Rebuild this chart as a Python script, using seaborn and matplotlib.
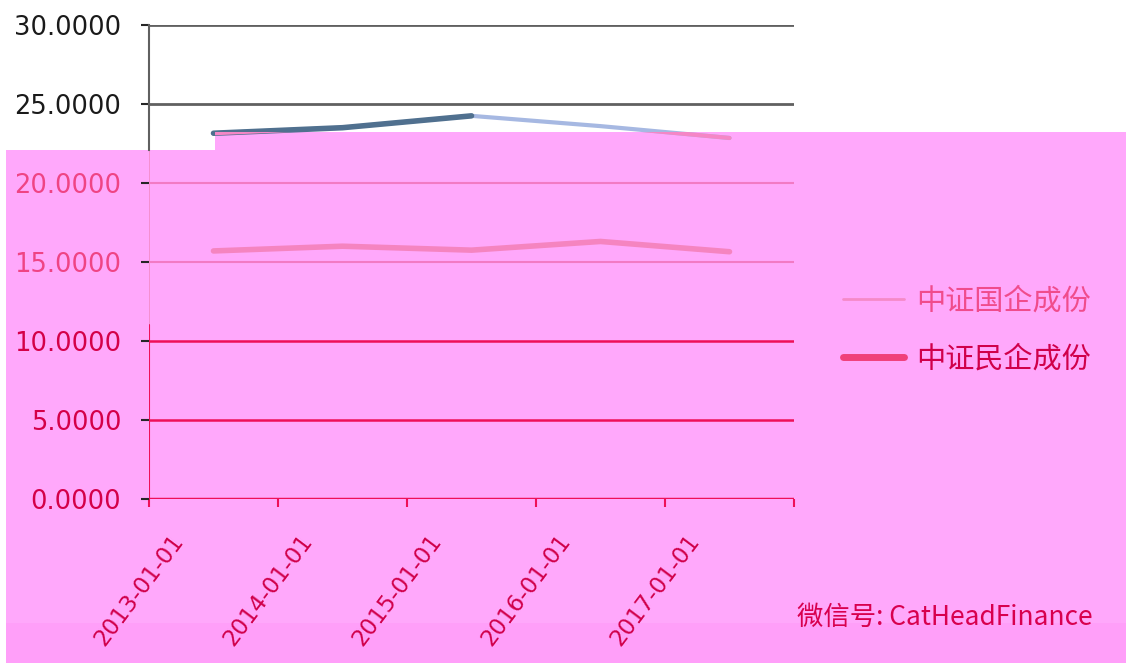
import matplotlib
matplotlib.use('Agg')
import matplotlib.pyplot as plt
import matplotlib.patches as mpatches
from matplotlib.lines import Line2D
from matplotlib.transforms import ScaledTranslation
import seaborn as sns
import pandas as pd

# data
dates = ['2013-01-01', '2014-01-01', '2015-01-01', '2016-01-01', '2017-01-01']
soe_values = [23.15, 23.5, 24.25, 23.6, 22.85]        # 中证国企成份
private_values = [15.7, 16.0, 15.75, 16.3, 15.65]     # 中证民企成份
series_names = ['中证国企成份', '中证民企成份']
y_ticks = [0, 5, 10, 15, 20, 25, 30]
watermark = '微信号: CatHeadFinance'

sns.set_theme(style='white')
plt.rcParams['font.family'] = ['DejaVu Sans', 'Noto Sans CJK SC']
cjk = ['Noto Sans CJK SC', 'DejaVu Sans']

W, H = 1126, 663
fig = plt.figure(figsize=(W / 100, H / 100), dpi=100)
fig.patch.set_facecolor('white')

# pink overlay areas (behind the axes)
pink = '#ffa8fb'
def px_rect(x0, y0, x1, y1, color, z):
    r = mpatches.Rectangle((x0 / W, 1 - y1 / H), (x1 - x0) / W, (y1 - y0) / H,
                           transform=fig.transFigure, facecolor=color,
                           edgecolor='none', zorder=z)
    fig.add_artist(r)
    return r

rect_a = px_rect(6, 150, 215, 663, pink, -2)
rect_b = px_rect(215, 132, 1126, 663, pink, -2)
px_rect(6, 623, 1126, 663, '#ff9ff9', -1)

ax = fig.add_axes([149 / W, 1 - 499 / H, (794 - 149) / W, (499 - 25) / H])
ax.patch.set_alpha(0)

df = pd.DataFrame({'date': dates, 'soe': soe_values, 'private': private_values})
x = list(range(len(dates)))

# upper series: light line, darker first half
sns.lineplot(x=x, y=df['soe'], ax=ax, color='#a6b8e2', lw=3, zorder=3)
sns.lineplot(x=x[:3], y=df['soe'][:3], ax=ax, color='#50708f', lw=4, zorder=4)
# tail of the upper line inside the pink area
sns.lineplot(x=x, y=df['soe'], ax=ax, color='#f586c6', lw=3, zorder=5)
ax.lines[-1].set_clip_path(rect_b)
# lower series
sns.lineplot(x=x, y=df['private'], ax=ax, color='#f584c0', lw=4, zorder=3)

ax.set_xlim(-0.5, len(dates) - 0.5)
ax.set_ylim(0, 30)
ax.set_xlabel('')
ax.set_ylabel('')

# y axis
ax.set_yticks(y_ticks)
ax.set_yticklabels([f'{v:.4f}' for v in y_ticks], fontsize=18.5)
ax.tick_params(axis='y', length=6, width=1.5, pad=14, left=True)
grid_cols = ['#ee1058', '#ee1058', '#ee1058', '#f27ac4', '#f27ac4', '#606060', '#606060']
grid_lw = [2.5, 1.8, 1.8, 1.5, 1.5, 2, 2]
lab_cols = ['#d40048', '#d40048', '#d40048', '#ef4484', '#ef4484', '#1a1a1a', '#1a1a1a']
ax.yaxis.grid(True)
for t, gc, lw, lc in zip(ax.yaxis.get_major_ticks(), grid_cols, grid_lw, lab_cols):
    t.gridline.set_color(gc)
    t.gridline.set_linewidth(lw)
    t.gridline.set_zorder(1)
    t.tick1line.set_color(gc)
    t.label1.set_color(lc)

# x axis: tick marks between categories, labels drawn rotated
ax.set_xticks([i - 0.5 for i in range(len(dates) + 1)])
ax.set_xticklabels([])
ax.tick_params(axis='x', length=6, width=1.5, color='#ee1058', bottom=True)
off = ScaledTranslation(-0.34, -0.38, fig.dpi_scale_trans)
for i, d in enumerate(dates):
    ax.text(i, 0, d, transform=ax.transData + off, rotation=53,
            rotation_mode='anchor', ha='right', va='center',
            fontsize=16.5, color='#d0004a')

for s in ['top', 'right']:
    ax.spines[s].set_visible(False)
ax.spines['bottom'].set_visible(False)
ax.spines['left'].set_color('#606060')
ax.spines['left'].set_linewidth(1.5)
ax.spines['left'].set_bounds(22.1, 30)
ax.axvline(-0.5, ymin=11 / 30, ymax=22.1 / 30, color='#f48ac8', lw=1.2, zorder=1)
ax.axvline(-0.5, ymin=0, ymax=11 / 30, color='#ee1058', lw=1.5, zorder=1)

# legend
handles = [Line2D([], [], color='#f58ac8', lw=2),
           Line2D([], [], color='#f0407a', lw=5)]
leg = fig.legend(handles, series_names, loc='center left',
                 bbox_to_anchor=(843 / W, 1 - 330.5 / H), frameon=False,
                 borderpad=0, borderaxespad=0, handlelength=2.1,
                 handletextpad=0.4, labelspacing=0.95,
                 prop={'family': cjk, 'size': 21})
leg.get_texts()[0].set_color('#f04c8c')
leg.get_texts()[1].set_color('#d0004a')

fig.text(797 / W, 1 - 617 / H, watermark, ha='left', va='center',
         fontsize=19, color='#d8004e', family=cjk)

fig.savefig('out.png', dpi=100)
